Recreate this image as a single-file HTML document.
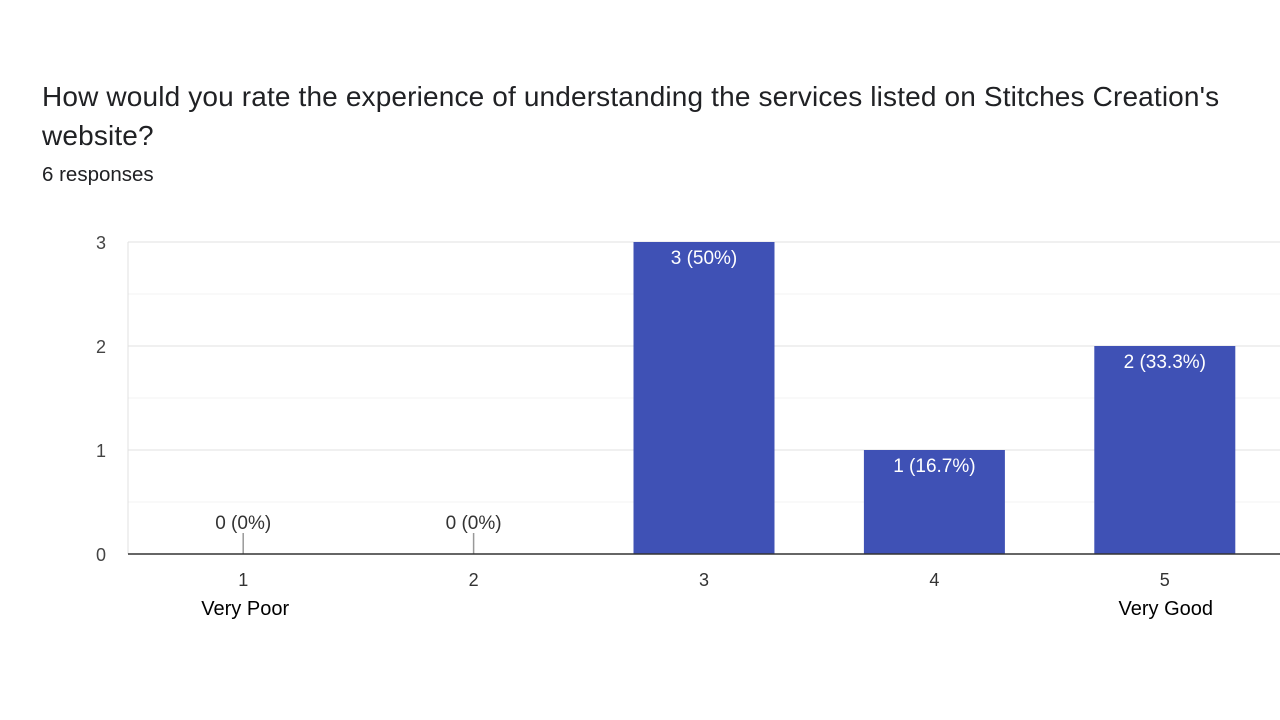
<!DOCTYPE html>
<html><head><meta charset="utf-8"><style>
body{margin:0;width:1280px;height:720px;background:#fff;overflow:hidden;font-family:"Liberation Sans",sans-serif}
#title{position:absolute;left:42px;top:77px;font-size:28px;letter-spacing:0.15px;line-height:39px;color:#202124;width:1215px}
#resp{position:absolute;left:42px;top:163px;font-size:20.5px;color:#202124}
svg{position:absolute;left:0;top:0}
</style></head><body>
<div id="title">How would you rate the experience of understanding the services listed on Stitches Creation's website?</div>
<div id="resp">6 responses</div>
<svg id="c" width="1280" height="720"></svg>
<script>
const categories=["1","2","3","4","5"];
const values=[0,0,3,1,2];
const labels=["0 (0%)","0 (0%)","3 (50%)","1 (16.7%)","2 (33.3%)"];
const yTicks=[0,1,2,3];
const subLabels=["Very Poor","","","","Very Good"];
const L=128,R=1280,T=242,B=554,maxY=3;
const band=(R-L)/categories.length,bw=141;
const y=v=>B-(B-T)*v/maxY;
const xc=i=>L+band*(i+0.5);
const svg=document.getElementById('c');const NS="http://www.w3.org/2000/svg";
function mk(t,a,txt){const e=document.createElementNS(NS,t);for(const k in a)e.setAttribute(k,a[k]);if(txt!==undefined)e.textContent=txt;svg.appendChild(e);return e;}
for(let v=0;v<=maxY;v+=0.5){
 const g=mk('line',{x1:L,x2:R,y1:y(v),y2:y(v),stroke:v%1?'#f3f3f3':'#e0e0e0','stroke-width':1});
 
 
}
mk('line',{x1:L,x2:L,y1:T,y2:B,stroke:'#e0e0e0'});
yTicks.forEach(v=>{const t=mk('text',{x:106,y:y(v)+7,'text-anchor':'end','font-size':18,fill:'#444'},v);
 
 });
values.forEach((v,i)=>{
 const cx=xc(i);
 if(v>0){
  const r=mk('rect',{x:cx-bw/2,y:y(v),width:bw,height:B-y(v),fill:'#3f51b5'});
  
  
  const t=mk('text',{x:cx,y:y(v)+22,'text-anchor':'middle','font-size':19,fill:'#fff'},labels[i]);
  
  
 }else{
  mk('line',{x1:cx,x2:cx,y1:533,y2:B,stroke:'#999','stroke-width':1.5});
  const t=mk('text',{x:cx,y:529,'text-anchor':'middle','font-size':19,fill:'#333'},labels[i]);
  
  
 }
 const xl=mk('text',{x:cx,y:586,'text-anchor':'middle','font-size':18,fill:'#333'},categories[i]);
 
 
 if(subLabels[i]){const s=mk('text',{x:cx+(i?1:2),y:615,'text-anchor':'middle','font-size':20,fill:'#000'},subLabels[i]);
  
  }
});
const ax=mk('line',{x1:L,x2:R,y1:B,y2:B,stroke:'#333','stroke-width':1.5});


</script>
</body></html>
